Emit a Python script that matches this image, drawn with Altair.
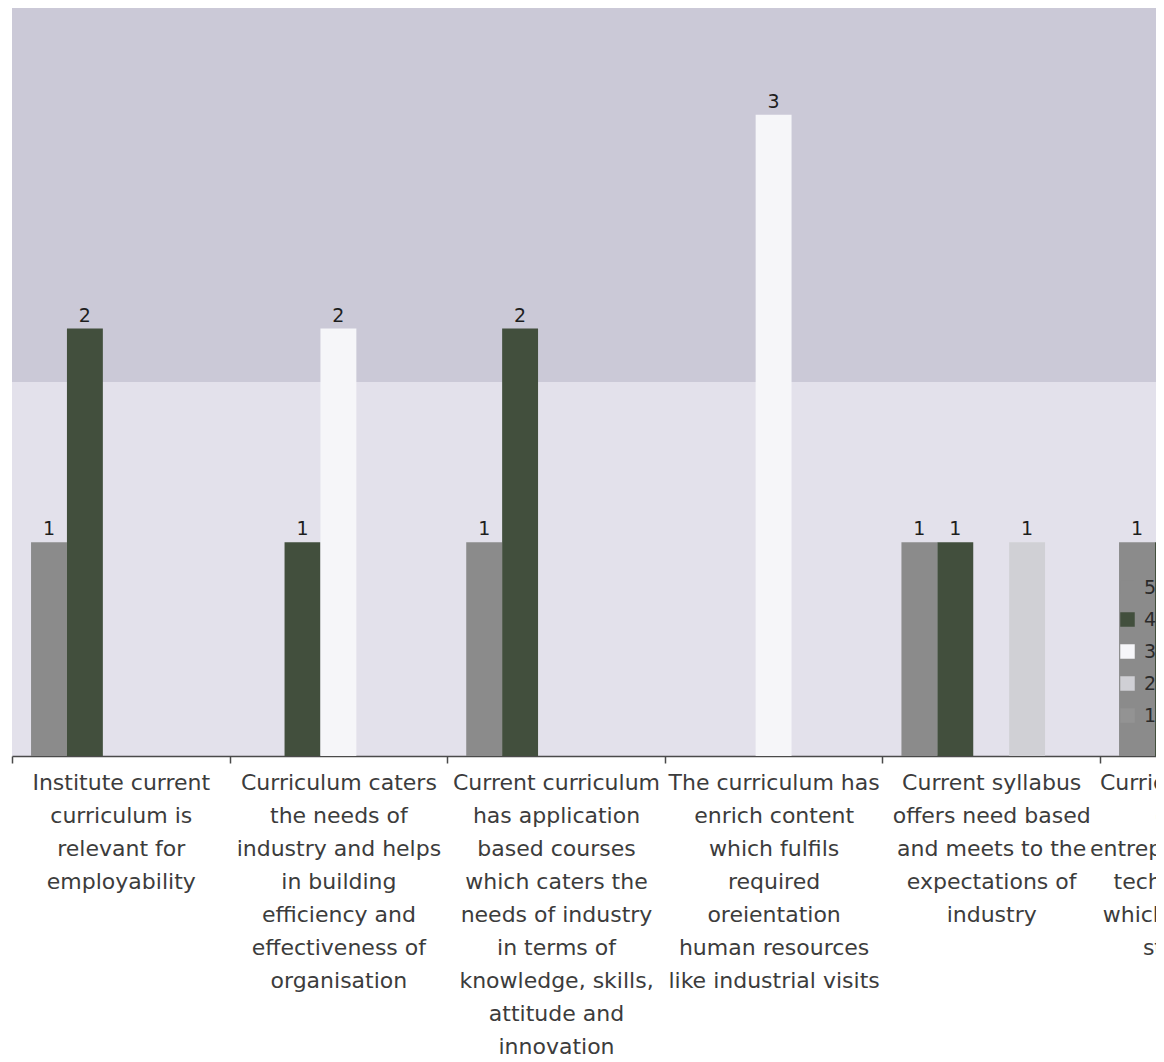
import json
import altair as alt
import pandas as pd

# ---- data ----
categories = [
    "Institute current\ncurriculum is\nrelevant for\nemployability",
    "Curriculum caters\nthe needs of\nindustry and helps\nin building\nefficiency and\neffectiveness of\norganisation",
    "Current curriculum\nhas application\nbased courses\nwhich caters the\nneeds of industry\nin terms of\nknowledge, skills,\nattitude and\ninnovation",
    "The curriculum has\nenrich content\nwhich fulfils\nrequired\noreientation\nhuman resources\nlike industrial visits",
    "Current syllabus\noffers need based\nand meets to the\nexpectations of\nindustry",
    "Curriculum includes\ncourse on\nentrepreneurship and\ntechnical aspects\nwhich develops the\nstudents for\nstart-ups",
]
series = ["5", "4", "3", "2", "1"]
series_colors = ["#8b8b8b", "#424f3d", "#f6f6f9", "#d0d0d5", "#939393"]

bar_category = [0, 0, 1, 1, 2, 2, 3, 4, 4, 4, 5, 5]
bar_series = ["5", "4", "4", "3", "5", "4", "3", "5", "4", "2", "5", "4"]
bar_value = [1, 2, 1, 2, 1, 2, 3, 1, 1, 1, 1, 1]

# plot-area shading: upper band of the background, in value units
band_low = [1.75]
band_high = [3.5]

# ---- layout (Excel clustered columns: 5 slots per category, gap at both sides) ----
CAT_PX = 217.6            # pixel width of one category
PLOT_W = 1144
PLOT_H = 748
X_MAX = PLOT_W / CAT_PX   # the picture is cut inside the 6th category
GAP = 0.0875              # side gap, in category units
SLOT = (1 - 2 * GAP) / len(series)

df = pd.DataFrame({
    "cat_idx": bar_category,
    "series": bar_series,
    "value": bar_value,
})
df["slot"] = [series.index(s) for s in bar_series]
df["x0"] = df["cat_idx"] + GAP + SLOT * df["slot"]
df["x1"] = df["x0"] + SLOT
df["xc"] = df["x0"] + SLOT / 2
df["base"] = 0

band_df = pd.DataFrame({"lo": band_low, "hi": band_high})

label_lines = json.dumps([c.replace("\n", "|") for c in categories])
label_expr = "split(" + label_lines + "[datum.value], '|')"

x_scale = alt.Scale(domain=[0, X_MAX], nice=False, zero=False)
y_scale = alt.Scale(domain=[0, 3.5], nice=False)

x_axis = alt.Axis(
    title=None,
    values=list(range(len(categories))),
    labelExpr=label_expr,
    labelOffset=CAT_PX / 2,
    labelAngle=0,
    labelAlign="center",
    labelBaseline="top",
    labelFont="DejaVu Sans",
    labelFontSize=22,
    labelColor="#3c3c3c",
    labelLineHeight=33,
    labelLimit=0,
    labelPadding=9,
    labelOverlap=False,
    labelFlush=False,
    domainColor="#4a4a4a",
    domainWidth=1.5,
    tickColor="#4a4a4a",
    tickSize=7,
    tickWidth=1.5,
    grid=False,
)

background_top = alt.Chart(band_df).mark_rect(color="#cbc9d7").encode(
    x=alt.value(0),
    x2=alt.value("width"),
    y=alt.Y("lo:Q", scale=y_scale, axis=None),
    y2=alt.Y2("hi:Q"),
)

bars = alt.Chart(df).mark_rect().encode(
    x=alt.X("x0:Q", scale=x_scale, axis=x_axis),
    x2=alt.X2("x1:Q"),
    y=alt.Y("value:Q", scale=y_scale, axis=None),
    y2=alt.Y2("base:Q"),
    color=alt.Color(
        "series:N",
        scale=alt.Scale(domain=series, range=series_colors),
        legend=alt.Legend(
            title=None,
            orient="none",
            legendX=1106,
            legendY=570,
            symbolType="square",
            symbolSize=210,
            symbolStrokeWidth=0,
            labelFont="DejaVu Sans",
            labelFontSize=19,
            labelColor="#2a2a2a",
            labelOffset=7,
            rowPadding=12,
            padding=0,
        ),
    ),
)

labels = alt.Chart(df).mark_text(
    baseline="bottom", dy=-3, font="DejaVu Sans", fontSize=19, color="#1e1e1e"
).encode(
    x=alt.X("xc:Q"),
    y=alt.Y("value:Q"),
    text=alt.Text("value:Q"),
)

chart = alt.layer(background_top, bars, labels).properties(
    width=PLOT_W,
    height=PLOT_H,
    autosize=alt.AutoSizeParams(type="none"),
    padding={"left": 4, "top": 0, "right": 0, "bottom": 298},
).configure_view(
    fill="#e3e1eb", stroke=None
)

chart.save("out.html", embed_options={"renderer": "svg", "actions": False})
